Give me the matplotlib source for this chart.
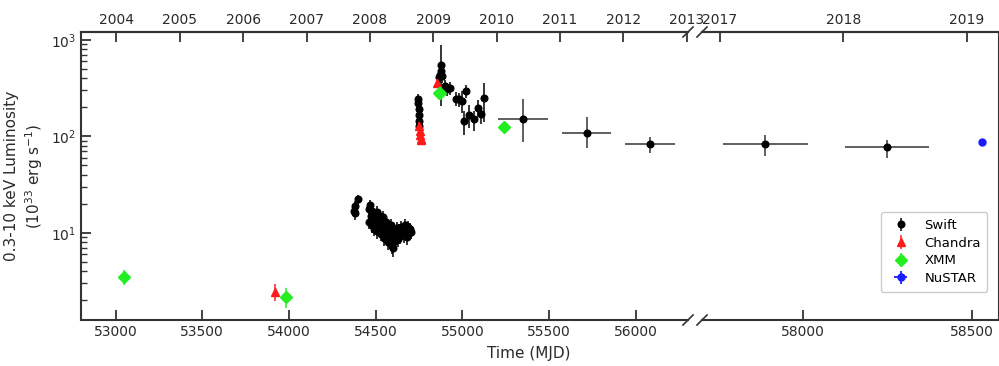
import matplotlib
matplotlib.use('Agg')
import matplotlib.pyplot as plt
from matplotlib.ticker import LogLocator, NullFormatter

# ---------------- data ----------------
swift_mjd = [54376, 54378, 54380, 54400,
             54460, 54464, 54468, 54472, 54476, 54481, 54486, 54490, 54495, 54500,
             54505, 54510, 54515, 54520, 54525, 54530, 54535, 54540, 54545, 54550,
             54556, 54561, 54566, 54571, 54576, 54581, 54586, 54591, 54596, 54601,
             54606, 54611, 54616, 54622, 54628, 54634, 54640, 54646, 54652, 54658,
             54664, 54670, 54676, 54682, 54688, 54694, 54700, 54706,
             54745, 54746, 54747, 54748, 54749, 54750,
             54862, 54870, 54874, 54877, 54880, 54902, 54911, 54927, 54960, 54979,
             54998, 55023, 55007, 55036, 55065, 55090, 55107, 55122]
swift_lum = [17.0, 19.0, 16.0, 22.5,
             17.5, 13.0, 19.5, 15.0, 12.0, 17.0, 14.0, 11.0, 15.5, 12.5,
             16.5, 10.5, 13.5, 11.5, 15.0, 9.8, 12.0, 14.5, 10.2, 8.8,
             11.5, 13.0, 9.2, 8.0, 10.2, 8.6, 12.0, 7.4, 9.0, 6.9,
             10.5, 8.2, 9.6, 11.2, 8.6, 10.6, 9.2, 11.6, 10.0, 11.0,
             9.5, 12.0, 10.5, 9.0, 11.5, 10.0, 11.0, 10.3,
             243, 221, 191, 165, 143, 127,
             416, 436, 479, 549, 420, 335, 309, 321, 247, 243,
             233, 296, 144, 166, 150, 199, 170, 252]
swift_err = [2.5, 2.5, 2.5, 2.5,
             2.5, 2.0, 2.5, 2.2, 2.0, 2.5, 2.2, 1.8, 2.3, 2.0,
             2.5, 1.8, 2.0, 1.8, 2.3, 1.6, 2.0, 2.2, 1.7, 1.5,
             1.8, 2.0, 1.5, 1.4, 1.7, 1.5, 1.9, 1.3, 1.5, 1.3,
             1.7, 1.4, 1.6, 1.8, 1.5, 1.7, 1.5, 1.8, 1.6, 1.8,
             1.6, 2.0, 1.7, 1.5, 1.8, 1.6, 1.8, 1.7,
             35, 30, 25, 22, 20, 18,
             60, 70, 80, 340, 60, 50, 45, 50, 40, 40,
             60, 45, 40, 45, 35, 40, 35, 110]

bin_mjd = [55350, 55715, 56080, 57888, 58248]
bin_lum = [153, 108, 82.5, 82.5, 76.8]
bin_halfwidth = [145, 143, 144, 126, 125]
bin_err_lo = [66, 33, 15, 20, 17]
bin_err_hi = [90, 52, 17, 20, 16]

chandra_mjd = [53922, 54751, 54754, 54757, 54760, 54763, 54856]
chandra_lum = [2.45, 128, 115, 104, 95, 91, 356]
chandra_err = [0.5, 12, 10, 10, 8, 8, 40]

xmm_mjd = [53048, 53980, 54866, 54872, 55238]
xmm_lum = [3.5, 2.17, 285, 280, 126]
xmm_err = [0.6, 0.5, 30, 30, 10]

nustar_mjd = [58530]
nustar_lum = [87]
nustar_xerr = [8]
nustar_err = [6]

left_ticks = [53000, 53500, 54000, 54500, 55000, 55500, 56000]
right_ticks = [58000, 58500]
left_years = ['2004', '2005', '2006', '2007', '2008', '2009', '2010', '2011', '2012', '2013']
left_year_mjd = [53005, 53371, 53736, 54101, 54466, 54832, 55197, 55562, 55927, 56293]
right_years = ['2017', '2018', '2019']
right_year_mjd = [57754, 58119, 58484]

# ---------------- figure ----------------
fig = plt.figure(figsize=(9.99, 3.66), dpi=100)
W, H = 999, 366
bottom = (366 - 320) / H
height = 288 / H
ax1 = fig.add_axes([81 / W, bottom, (688 - 81) / W, height])
ax2 = fig.add_axes([702 / W, bottom, (998.5 - 702) / W, height], sharey=ax1)

spine_col = '#333333'
txt_col = '#2a2a2a'


def draw(ax):
    ax.errorbar(swift_mjd, swift_lum, yerr=swift_err, fmt='o', color='black',
                ms=4.8, elinewidth=1.1, capsize=0, label='Swift', zorder=3)
    ax.errorbar(bin_mjd, bin_lum, xerr=bin_halfwidth, yerr=[bin_err_lo, bin_err_hi],
                fmt='o', color='black', ecolor='#444444', ms=4.8, elinewidth=1.2,
                capsize=0, zorder=3)
    ax.errorbar(chandra_mjd, chandra_lum, yerr=chandra_err, fmt='^', color='#ff1a1a',
                ms=5.8, elinewidth=1.1, capsize=0, label='Chandra', zorder=4)
    ax.errorbar(xmm_mjd, xmm_lum, yerr=xmm_err, fmt='D', color='#22ee22',
                ms=6, elinewidth=1.1, capsize=0, label='XMM', zorder=4)
    ax.errorbar(nustar_mjd, nustar_lum, xerr=nustar_xerr, yerr=nustar_err, fmt='o',
                color='#1a1aff', ms=5, elinewidth=1.3, capsize=0, label='NuSTAR', zorder=4)


for ax in (ax1, ax2):
    draw(ax)
    ax.set_yscale('log')
    for s in ax.spines.values():
        s.set_linewidth(1.5)
        s.set_color(spine_col)
    ax.tick_params(axis='both', which='major', direction='in', length=7, width=1.3,
                   colors=spine_col, labelcolor=txt_col, labelsize=10)
    ax.tick_params(axis='both', which='minor', direction='in', length=4, width=1.0,
                   colors=spine_col)

ax1.set_ylim(1.25, 1210)
ax1.set_xlim(52801, 56300)
ax2.set_xlim(57701, 58578)
ax1.yaxis.set_major_locator(LogLocator(base=10, numticks=10))
ax1.yaxis.set_minor_locator(LogLocator(base=10, subs=range(2, 10), numticks=20))
ax1.yaxis.set_minor_formatter(NullFormatter())
ax1.set_xticks(left_ticks)
ax1.set_xticklabels([str(t) for t in left_ticks])
ax2.set_xticks(right_ticks)
ax2.set_xticklabels([str(t) for t in right_ticks])
ax1.xaxis.set_minor_locator(plt.NullLocator())
ax2.xaxis.set_minor_locator(plt.NullLocator())

ax1.spines['right'].set_visible(False)
ax2.spines['left'].set_visible(False)
ax2.tick_params(axis='y', which='both', left=False, labelleft=False, right=False)

# top year axes
for ax, pos, labs in ((ax1, left_year_mjd, left_years), (ax2, right_year_mjd, right_years)):
    sec = ax.secondary_xaxis('top')
    sec.set_xticks(pos)
    sec.set_xticklabels(labs)
    sec.tick_params(direction='in', length=7, width=1.3, colors=spine_col,
                    labelcolor=txt_col, labelsize=10)
    sec.xaxis.set_minor_locator(plt.NullLocator())
    for s in sec.spines.values():
        s.set_linewidth(1.5)
        s.set_color(spine_col)

# break marks
kw = dict(color=spine_col, lw=1.2, clip_on=False)
dx1 = 5 / (688 - 81)
dx2 = 5 / (998.5 - 702)
dy = 5 / 288
for yy in (0, 1):
    ax1.plot([1 - dx1, 1 + dx1], [yy - dy, yy + dy], transform=ax1.transAxes, **kw)
    ax2.plot([-dx2, dx2], [yy - dy, yy + dy], transform=ax2.transAxes, **kw)

ax1.set_ylabel('0.3-10 keV Luminosity\n(10$^{33}$ erg s$^{-1}$)', fontsize=11,
               color=txt_col, linespacing=1.3)
fig.text(0.529, 0.015, 'Time (MJD)', ha='center', va='bottom', fontsize=11, color=txt_col)

ax2.legend(loc='lower right', bbox_to_anchor=(0.985, 0.076), fontsize=9.5,
           frameon=True, edgecolor='#cccccc', framealpha=1, handletextpad=0.8,
           borderpad=0.5, labelspacing=0.35)

fig.savefig('out.png', dpi=100)
